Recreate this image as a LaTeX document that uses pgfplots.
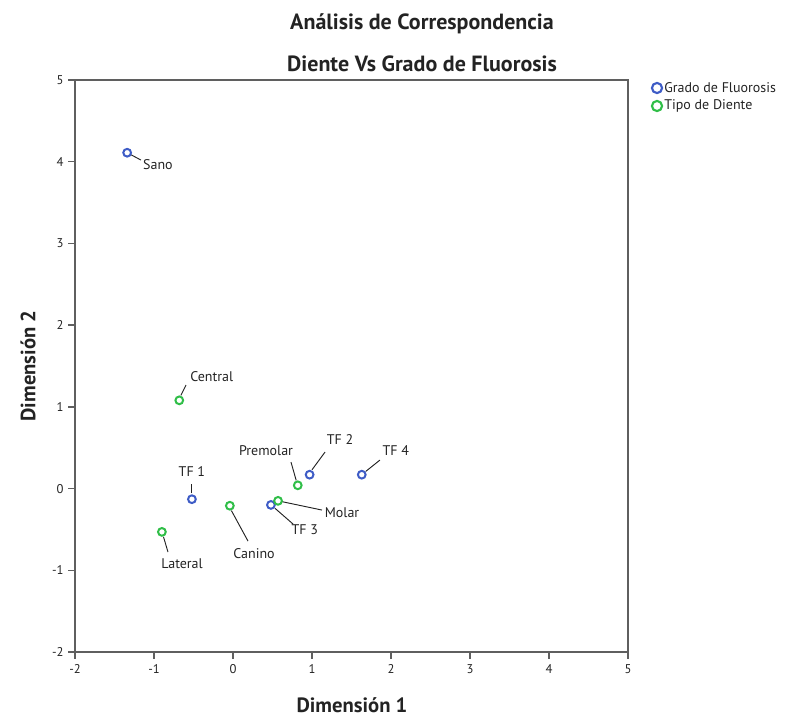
\documentclass[border=0pt]{standalone}
\usepackage{fontspec}
\setmainfont{PT Sans}
\usepackage{pgfplots}
\pgfplotsset{compat=1.18}
\definecolor{gblue}{RGB}{62,92,198}
\definecolor{ggreen}{RGB}{48,190,72}
\definecolor{axgray}{RGB}{95,95,95}
\definecolor{txt}{RGB}{35,35,35}
\begin{document}
\begin{tikzpicture}
\begin{axis}[
  at={(0,0)}, anchor=south west,
  scale only axis, width=414.75pt, height=429pt,
  xmin=-2, xmax=5, ymin=-2, ymax=5,
  xtick={-2,...,5}, ytick={-2,...,5},
  axis line style={axgray, line width=1.1pt},
  tick style={axgray, line width=1.1pt},
  tick align=outside, major tick length=5pt,
  xtick pos=bottom, ytick pos=left,
  /pgf/number format/assume math mode=true,
  ticklabel style={font=\fontsize{9.5}{10}\selectfont, text=txt},
  xticklabel style={yshift=-1pt},
  clip=false,
]
% Grado de Fluorosis
\addplot[only marks, mark=o, mark size=2.9pt, mark options={gblue, line width=1.5pt}] coordinates {
  (-1.34,4.11) (-0.52,-0.13) (0.97,0.17) (0.48,-0.20) (1.63,0.17)
};
% Tipo de Diente
\addplot[only marks, mark=o, mark size=2.9pt, mark options={ggreen, line width=1.5pt}] coordinates {
  (-0.68,1.08) (-0.90,-0.53) (-0.04,-0.21) (0.82,0.04) (0.57,-0.15)
};
% leader lines
\begin{scope}[txt, line width=0.7pt]
\draw (axis cs:-1.29,4.085) -- (axis cs:-1.165,4.02);
\draw (axis cs:-0.66,1.14) -- (axis cs:-0.595,1.267);
\draw (axis cs:-0.52,-0.06) -- (axis cs:-0.52,0.055);
\draw (axis cs:-0.88,-0.59) -- (axis cs:-0.823,-0.777);
\draw (axis cs:-0.02,-0.27) -- (axis cs:0.19,-0.643);
\draw (axis cs:0.53,-0.24) -- (axis cs:0.76,-0.434);
\draw (axis cs:0.62,-0.16) -- (axis cs:1.127,-0.263);
\draw (axis cs:0.80,0.10) -- (axis cs:0.734,0.324);
\draw (axis cs:1.00,0.23) -- (axis cs:1.165,0.447);
\draw (axis cs:1.68,0.21) -- (axis cs:1.86,0.349);
\end{scope}
\begin{scope}[every node/.style={font=\fontsize{10.5}{11}\selectfont, text=txt, inner sep=0.5pt}]
\node at (axis cs:-0.95,3.96) {Sano};
\node at (axis cs:-0.27,1.365) {Central};
\node at (axis cs:-0.52,0.214) {TF 1};
\node at (axis cs:-0.645,-0.924) {Lateral};
\node at (axis cs:0.266,-0.79) {Canino};
\node at (axis cs:0.91,-0.508) {TF 3};
\node at (axis cs:1.38,-0.30) {Molar};
\node at (axis cs:0.418,0.459) {Premolar};
\node at (axis cs:1.354,0.606) {TF 2};
\node at (axis cs:2.06,0.47) {TF 4};
\end{scope}
\end{axis}
% titles
\node[font=\bfseries\fontsize{16.5}{17}\selectfont, text=txt] at (260.25pt,471pt) {Análisis de Correspondencia};
\node[font=\bfseries\fontsize{16.5}{17}\selectfont, text=txt] at (260.25pt,441.5pt) {Diente Vs Grado de Fluorosis};
\node[font=\bfseries\fontsize{15.5}{16}\selectfont, text=txt, rotate=90] at (-35.25pt,214.5pt) {Dimensión 2};
\node[font=\bfseries\fontsize{15.5}{16}\selectfont, text=txt] at (207.75pt,-39.75pt) {Dimensión 1};
% legend
\draw[gblue, line width=1.6pt] (436.5pt,423pt) circle (3.8pt);
\draw[ggreen, line width=1.6pt] (436.5pt,409.5pt) circle (3.8pt);
\node[anchor=west, font=\fontsize{10.5}{11}\selectfont, text=txt, inner sep=0pt] at (441.8pt,423pt) {Grado de Fluorosis};
\node[anchor=west, font=\fontsize{10.5}{11}\selectfont, text=txt, inner sep=0pt] at (441.8pt,409.5pt) {Tipo de Diente};
\path[use as bounding box] (-56.25pt,-50.25pt) rectangle (552.75pt,489pt);
\end{tikzpicture}
\end{document}
